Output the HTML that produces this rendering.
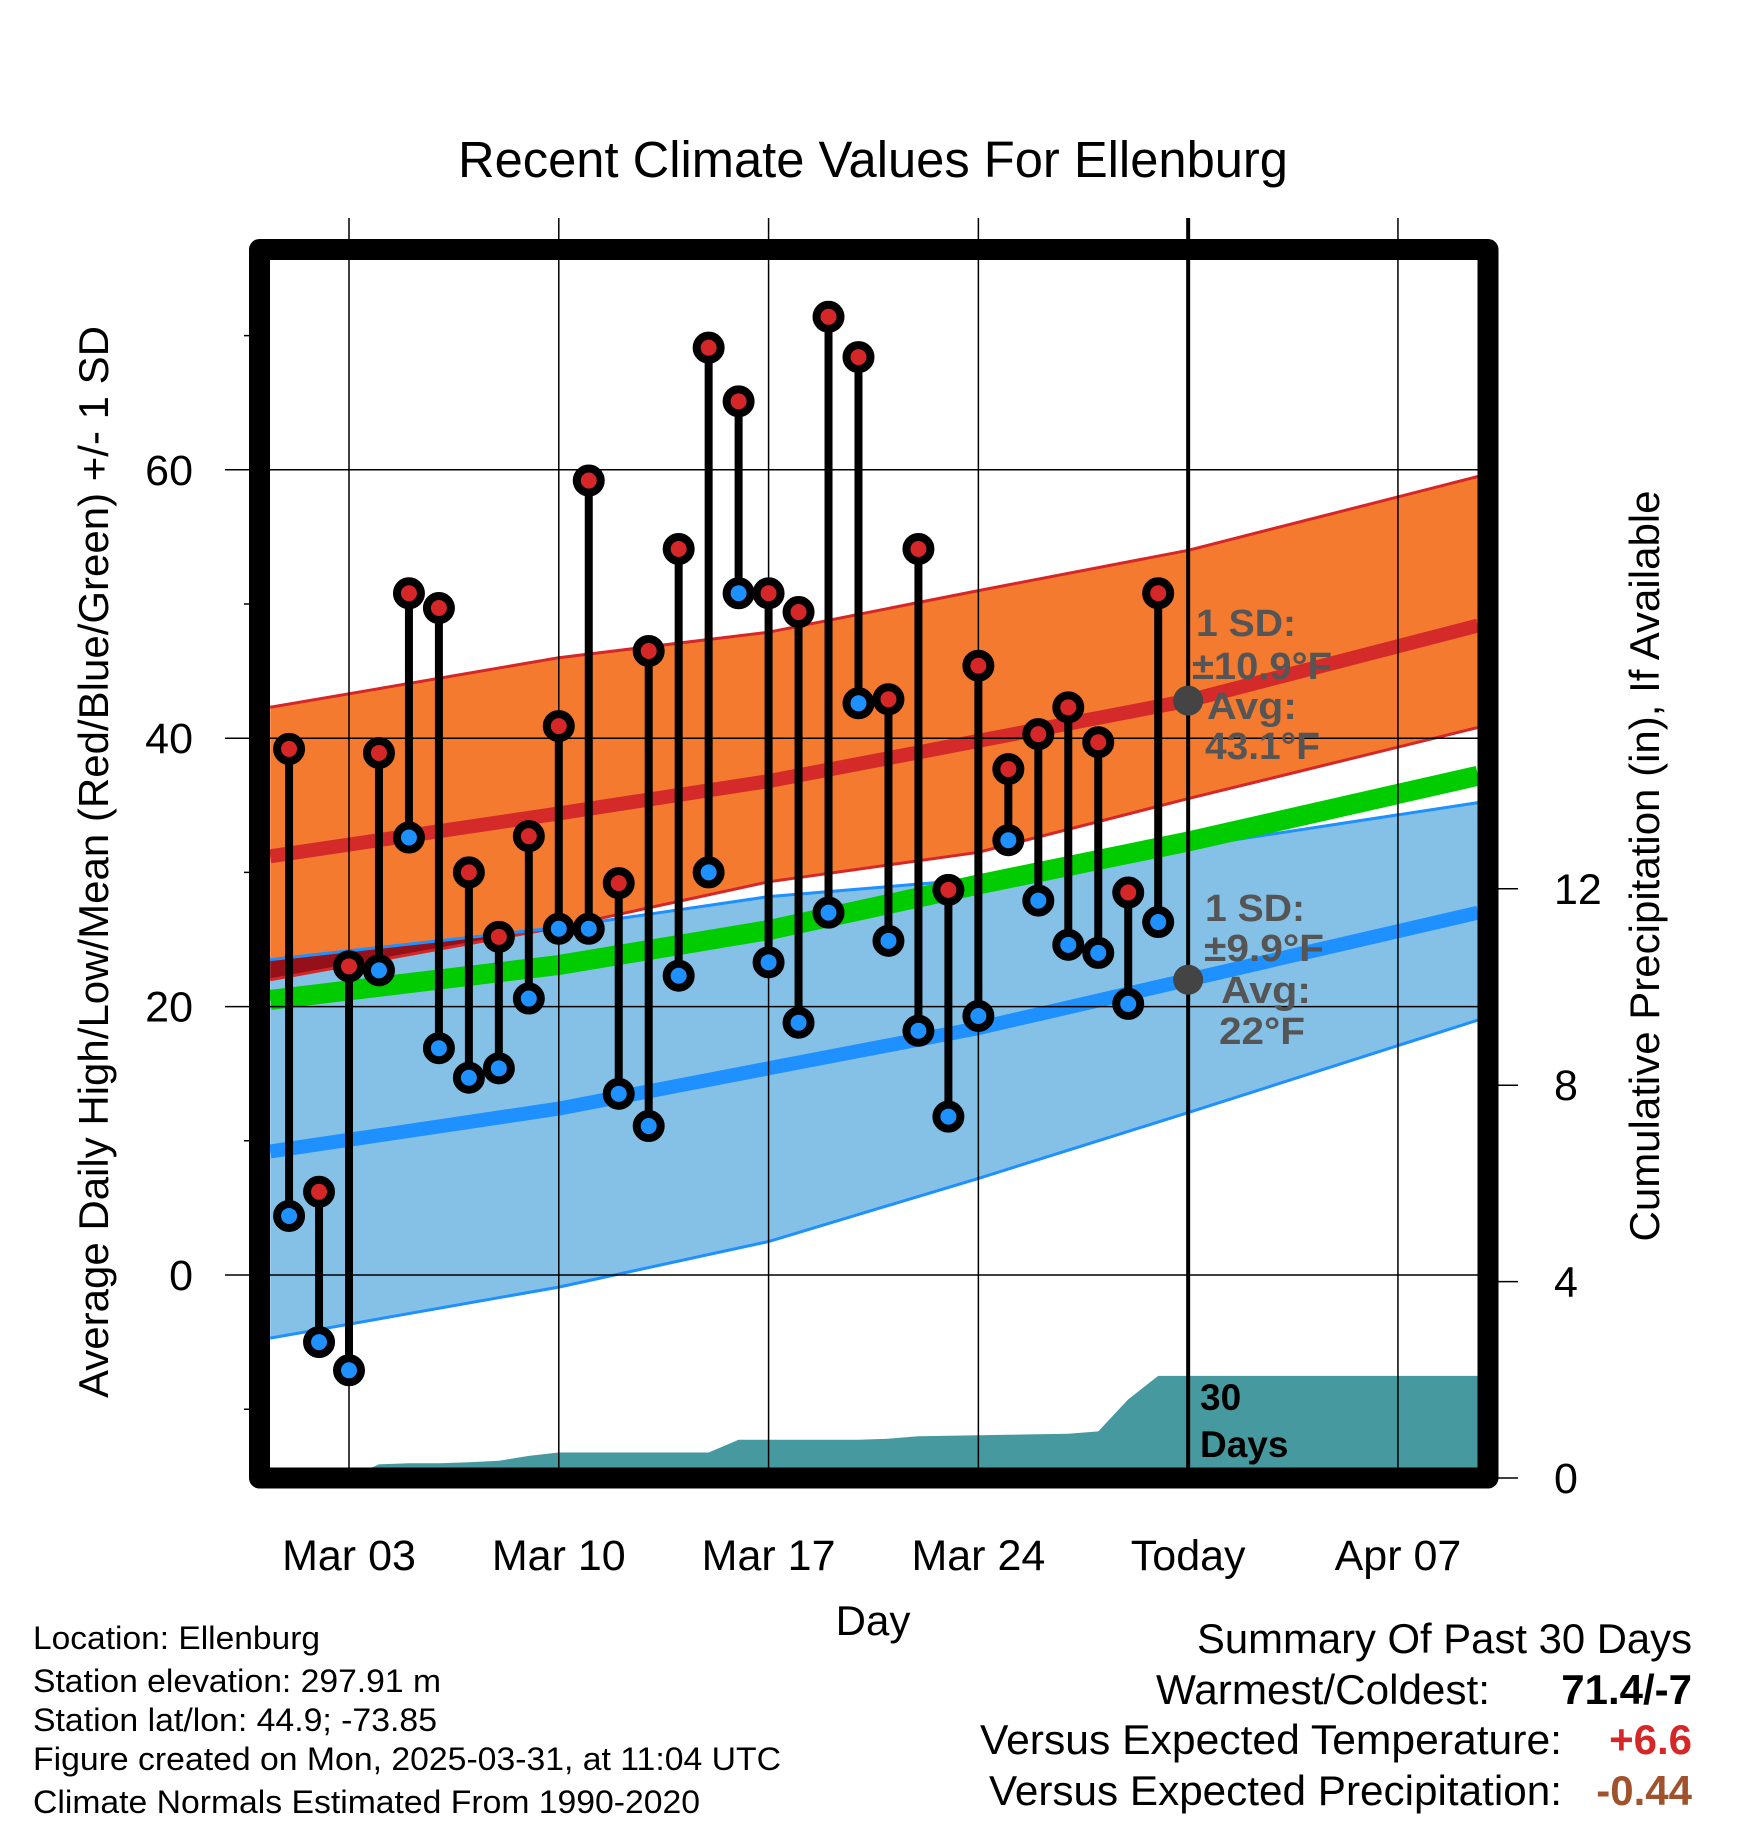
<!DOCTYPE html>
<html><head><meta charset="utf-8"><style>
html,body{margin:0;padding:0;background:#fff;}
svg{display:block;font-family:"Liberation Sans",Arial,sans-serif;}
</style></head><body>
<svg id="chart" width="1748" height="1828" viewBox="0 0 1748 1828" xmlns="http://www.w3.org/2000/svg">
<defs><clipPath id="plotclip"><rect x="270" y="260" width="1208" height="1208"/></clipPath></defs>
<text x="873" y="177" font-size="51" text-anchor="middle" textLength="830" lengthAdjust="spacingAndGlyphs">Recent Climate Values For Ellenburg</text>
<g id="plot"></g>
<text x="873" y="1635" font-size="42" text-anchor="middle">Day</text>
<text transform="translate(108,862) rotate(-90)" font-size="42" text-anchor="middle" textLength="1072" lengthAdjust="spacingAndGlyphs">Average Daily High/Low/Mean (Red/Blue/Green) +/- 1 SD</text>
<text transform="translate(1659,866) rotate(-90)" font-size="42" text-anchor="middle" textLength="751" lengthAdjust="spacingAndGlyphs">Cumulative Precipitation (in), If Available</text>
<g font-size="32">
<text x="33" y="1649" textLength="287" lengthAdjust="spacingAndGlyphs">Location: Ellenburg</text>
<text x="33" y="1692" textLength="408" lengthAdjust="spacingAndGlyphs">Station elevation: 297.91 m</text>
<text x="33" y="1731" textLength="404" lengthAdjust="spacingAndGlyphs">Station lat/lon: 44.9; -73.85</text>
<text x="33" y="1770" textLength="748" lengthAdjust="spacingAndGlyphs">Figure created on Mon, 2025-03-31, at 11:04 UTC</text>
<text x="33" y="1813" textLength="667" lengthAdjust="spacingAndGlyphs">Climate Normals Estimated From 1990-2020</text>
</g>
<g font-size="42" text-anchor="end">
<text x="1692" y="1653" textLength="495" lengthAdjust="spacingAndGlyphs">Summary Of Past 30 Days</text>
<text x="1490" y="1704" textLength="334" lengthAdjust="spacingAndGlyphs">Warmest/Coldest:</text>
<text x="1692" y="1704" font-weight="bold">71.4/-7</text>
<text x="1562" y="1754" textLength="582" lengthAdjust="spacingAndGlyphs">Versus Expected Temperature:</text>
<text x="1692" y="1754" font-weight="bold" fill="#D62728">+6.6</text>
<text x="1562" y="1805" textLength="573" lengthAdjust="spacingAndGlyphs">Versus Expected Precipitation:</text>
<text x="1692" y="1805" font-weight="bold" fill="#A0522D">-0.44</text>
</g>
</svg>
<script>
const days = [1,2,3,4,5,6,7,8,9,10,11,12,13,14,15,16,17,18,19,20,21,22,23,24,25,26,27,28,29,30];
const highs = [39.2,6.2,23.0,38.9,50.8,49.7,30.0,25.2,32.7,40.9,59.2,29.2,46.5,54.1,69.1,65.1,50.8,49.4,71.4,68.4,42.9,54.1,28.7,45.4,37.7,40.3,42.3,39.7,28.5,50.8];
const lows = [4.4,-5.0,-7.1,22.7,32.6,16.9,14.7,15.4,20.6,25.8,25.8,13.5,11.1,22.3,30.0,50.8,23.3,18.8,27.0,42.6,24.9,18.2,11.8,19.3,32.4,27.9,24.6,24.0,20.2,26.3];
const precipDays = [1,2,3,4,5,6,7,8,9,10,11,12,13,14,15,16,17,18,19,20,21,22,23,24,25,26,27,28,29,30,31,40.67];
const precipCum = [0,0,0,0.28,0.3,0.3,0.32,0.35,0.45,0.52,0.52,0.52,0.52,0.52,0.52,0.78,0.78,0.78,0.78,0.78,0.8,0.85,0.86,0.87,0.88,0.89,0.9,0.95,1.6,2.08,2.08,2.08];
const normDays = [0.37,10,17,24,31,40.67];
const normHigh = [31.2,34.4,36.8,39.8,42.8,48.4];
const normHighUp = [42.3,46.0,47.9,51.0,54.0,59.5];
const normHighLo = [22.0,25.9,29.3,31.5,35.5,40.8];
const normLow = [9.2,12.4,15.4,18.4,22.0,27.0];
const normLowUp = [23.5,25.9,28.2,29.5,31.9,35.2];
const normLowLo = [-4.7,-0.9,2.5,7.2,12.1,19.0];
const normMean = [20.5,23.1,25.7,29.1,32.3,37.2];
const xTickDays = [3,10,17,24,31,38];
const xTickLabels = ["Mar 03","Mar 10","Mar 17","Mar 24","Today","Apr 07"];
const yTicks = [0,20,40,60];
const yMinor = [-10,10,30,50,70];
const y2Ticks = [0,4,8,12];

const xs = d => 349 + (d-3)*29.97;
const ys = v => 1275 - v*13.42;
const y2 = p => 1478 - p*49.1;
const NS = "http://www.w3.org/2000/svg";
const plot = document.getElementById('plot');
function mk(tag, attrs, parent){const e=document.createElementNS(NS,tag);for(const k in attrs)e.setAttribute(k,attrs[k]);(parent||plot).appendChild(e);return e;}
const clipG = mk('g',{'clip-path':'url(#plotclip)'});
function line(arr){return normDays.map((d,i)=>xs(d).toFixed(1)+','+ys(arr[i]).toFixed(1));}
function band(up,lo){return line(up).concat(line(lo).reverse()).join(' ');}

let e;
e = mk('polygon',{points:band(normHighUp,normHighLo),fill:'#F47A30'},clipG);


e = mk('polygon',{points:band(normLowUp,normLowLo),fill:'#85C1E6'},clipG);


const ovLo = normHighLo.map((v,i)=>Math.min(v,normLowUp[i]));
e = mk('polygon',{points:band(normLowUp,ovLo),fill:'#951018'},clipG);


[[normHighUp,'#D62728'],[normHighLo,'#D62728'],[normLowUp,'#1E90FF'],[normLowLo,'#1E90FF']].forEach(([a,c])=>{
  e = mk('polyline',{points:line(a).join(' '),fill:'none',stroke:c,'stroke-width':3},clipG);
  
  
});
const pp = precipDays.map((d,i)=>xs(d).toFixed(1)+','+y2(precipCum[i]).toFixed(1));
e = mk('polygon',{points:[xs(1)+','+y2(0)].concat(pp,[xs(40.67)+','+y2(0)]).join(' '),fill:'#4799A0'},clipG);


[[normHigh,'#D42A2A',14,'normal-high-line'],[normLow,'#1E90FF',14,'normal-low-line'],[normMean,'#00CC00',20,'normal-mean-line']].forEach(([a,c,w,n])=>{
  e = mk('polyline',{points:line(a).join(' '),fill:'none',stroke:c,'stroke-width':w,'stroke-linejoin':'round'},clipG);
  
  
});
xTickDays.forEach((d,i)=>{
  e = mk('line',{x1:xs(d),x2:xs(d),y1:218,y2:1478,stroke:'#000','stroke-width':i==4?4:1.5});
  
  
  e = mk('text',{x:xs(d),y:1570,'font-size':43,'text-anchor':'middle'});
  e.textContent = xTickLabels[i];
  
  
});
yTicks.forEach(v=>{
  e = mk('line',{x1:225,x2:1478,y1:ys(v),y2:ys(v),stroke:'#000','stroke-width':1.5});
  
  
  e = mk('text',{x:193,y:ys(v)+15,'font-size':43,'text-anchor':'end'});
  e.textContent = v;
  
  
});
yMinor.forEach(v=>{
  e = mk('line',{x1:244,x2:262,y1:ys(v),y2:ys(v),stroke:'#000','stroke-width':1.5});
  
  
});
y2Ticks.forEach(p=>{
  e = mk('line',{x1:1488,x2:1518,y1:y2(p),y2:y2(p),stroke:'#000','stroke-width':1.5});
  
  
  e = mk('text',{x:1554,y:y2(p)+15,'font-size':43});
  e.textContent = p;
  
  
});
days.forEach((d,i)=>{
  e = mk('line',{x1:xs(d),x2:xs(d),y1:ys(highs[i]),y2:ys(lows[i]),stroke:'#000','stroke-width':8});
  
  
});
days.forEach((d,i)=>{
  e = mk('circle',{cx:xs(d),cy:ys(lows[i]),r:12,fill:'#1E90FF',stroke:'#000','stroke-width':8});
  
  
  e = mk('circle',{cx:xs(d),cy:ys(highs[i]),r:12,fill:'#D62728',stroke:'#000','stroke-width':8});
  
  
});
const todayHigh = normHigh[4], todayLow = normLow[4];
e = mk('circle',{cx:xs(31),cy:ys(todayHigh),r:15,fill:'#444'});


e = mk('circle',{cx:xs(31),cy:ys(todayLow),r:15,fill:'#444'});


const ann = mk('g',{fill:'#555','font-size':38,'font-weight':'bold'});


[[1196,636,'1 SD:',100],[1192,679,'±10.9°F',140],[1207,719,'Avg:',90],[1205,759,'43.1°F',115],
 [1205,921,'1 SD:',100],[1204,961,'±9.9°F',120],[1221,1003,'Avg:',90],[1219,1044,'22°F',86]].forEach(([x,y,t,w])=>{
  e = mk('text',{x:x,y:y,textLength:w,lengthAdjust:'spacingAndGlyphs'},ann);
  e.textContent = t;
  
  
});
const pl = mk('g',{fill:'#000','font-size':37,'font-weight':'bold'});


e = mk('text',{x:1200,y:1410},pl); e.textContent='30';


e = mk('text',{x:1200,y:1457},pl); e.textContent='Days';


e = mk('rect',{x:259.5,y:249.5,width:1228.5,height:1228.5,fill:'none',stroke:'#000','stroke-width':21,'stroke-linejoin':'round'});


</script>
</body></html>
